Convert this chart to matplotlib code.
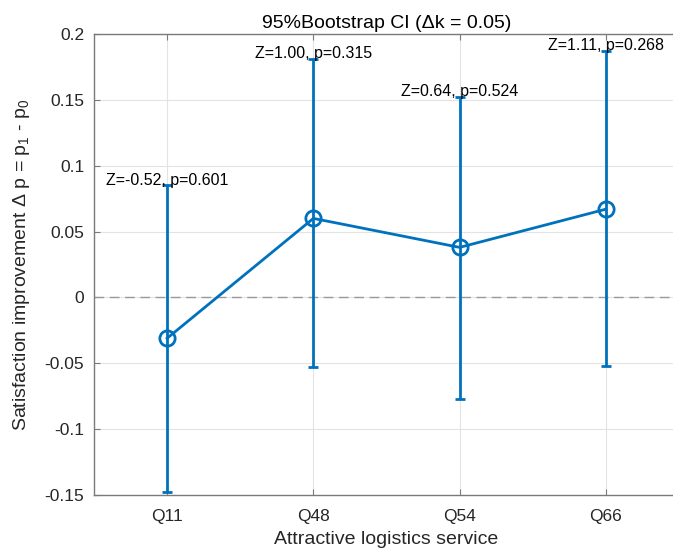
import matplotlib
matplotlib.use("Agg")
import matplotlib.pyplot as plt
from matplotlib.ticker import FuncFormatter

plt.rcParams['font.family'] = ['Liberation Sans', 'DejaVu Sans']
plt.rcParams['mathtext.fontset'] = 'custom'
plt.rcParams['mathtext.rm'] = 'Liberation Sans'
plt.rcParams['mathtext.it'] = 'Liberation Sans'

# data
questions = ['Q11', 'Q48', 'Q54', 'Q66']
delta_p = [-0.031, 0.060, 0.038, 0.067]
ci_low = [-0.148, -0.053, -0.077, -0.052]
ci_high = [0.085, 0.181, 0.152, 0.187]
z_vals = [-0.52, 1.00, 0.64, 1.11]
p_vals = [0.601, 0.315, 0.524, 0.268]

blue = '#0072BD'
axcol = '#7a7a7a'
txtcol = '#262626'

fig = plt.figure(figsize=(6.73, 5.53), dpi=100)
# axes box runs slightly past the right edge of the picture, as in the original crop
ax = fig.add_axes([94 / 673, 58 / 553, (679 - 94) / 673, (495 - 34) / 553])
ax.patch.set_edgecolor('none')
ax.patch.set_linewidth(0)

x = list(range(1, len(questions) + 1))
yerr = [[d - lo for d, lo in zip(delta_p, ci_low)],
        [hi - d for d, hi in zip(delta_p, ci_high)]]
ax.errorbar(x, delta_p, yerr=yerr, color=blue, lw=2, marker='o', ms=11,
            mfc='none', mew=2, capsize=3.5, capthick=2, zorder=3)
ax.axhline(0, color='#9a9a9a', ls='--', lw=1, dashes=(7, 4), zorder=2)

for xi, hi, z, p in zip(x, ci_high, z_vals, p_vals):
    ax.text(xi, hi + 0.004, f'Z={z:.2f}, p={p:.3f}', ha='center', va='center',
            fontsize=11.5, color='black', zorder=4)

ax.set_xlim(0.5, 4.5)
ax.set_ylim(-0.15, 0.2)
ax.set_xticks(x)
ax.set_xticklabels(questions)
ax.set_yticks([-0.15, -0.1, -0.05, 0, 0.05, 0.1, 0.15, 0.2])
ax.yaxis.set_major_formatter(FuncFormatter(lambda v, pos: f'{v:g}'))
ax.grid(True, color='#e3e3e3', lw=0.8, zorder=0)
ax.set_axisbelow(True)
ax.tick_params(direction='in', length=4, colors=axcol, labelcolor=txtcol,
               labelsize=12.5, top=True, right=False)
ax.tick_params(axis='x', pad=10)
ax.tick_params(axis='y', pad=7)
for s in ax.spines.values():
    s.set_color(axcol)
    s.set_linewidth(1)
ax.spines['right'].set_visible(False)

ax.set_title('95%Bootstrap CI (\u0394k = 0.05)', fontsize=14, color='black', pad=4)
ax.set_xlabel('Attractive logistics service', fontsize=14, color=txtcol, labelpad=5)
ax.set_ylabel(r'Satisfaction improvement $\Delta$ p = p$_1$ - p$_0$', fontsize=14,
              color=txtcol, labelpad=9)

fig.savefig('out.png', dpi=100)
